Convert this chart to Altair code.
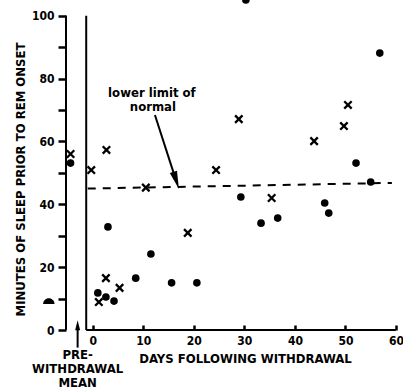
import altair as alt
import pandas as pd

# ---- data ----
cross_days = [-0.3, 2.7, 10.5, 24.4, 28.9, 35.4, 43.8, 49.7, 50.5, 18.8, 2.6, 5.3, 1.2]
cross_vals = [50.9, 57.3, 45.3, 50.9, 67.1, 42.0, 60.1, 64.9, 71.6, 30.9, 16.5, 13.4, 8.9]
dot_days = [30.3, 56.8, 52.1, 55.0, 29.3, 33.3, 36.6, 45.9, 46.7, 3.0, 11.5, 8.5, 15.6, 20.6, 1.0, 2.6, 4.2]
dot_vals = [105.0, 88.1, 53.1, 47.1, 42.3, 34.0, 35.6, 40.4, 37.2, 32.8, 24.2, 16.5, 15.0, 15.0, 11.8, 10.5, 9.2]
pre_day = -4.4
pre_cross_val = 56.0
pre_dot_val = 53.1
blob_day = [-8.7]
blob_val = [8.3]

normal_days = [-1.0, 59.2]
normal_vals = [45.0, 46.8]

x_ticks = [0, 10, 20, 30, 40, 50, 60]
y_ticks = [0, 10, 20, 30, 40, 50, 60, 70, 80, 90, 100]

FONT = "DejaVu Sans Condensed"
INK = "#000000"
H = 330

xs = alt.Scale(domain=[-5.3, 61], nice=False, zero=False)
ys = alt.Scale(domain=[0, 105], nice=False, zero=False)

xaxis = alt.Axis(values=x_ticks, domain=False, grid=False, ticks=True, tickSize=5,
                 tickWidth=2.5, tickColor="#000000", tickOpacity=1, offset=-5,
                 labelPadding=5,
                 labelFont=FONT, labelFontWeight="bold", labelFontSize=12, labelColor=INK,
                 title="DAYS FOLLOWING WITHDRAWAL", titleFont=FONT, titleFontWeight="bold",
                 titleFontSize=13, titleColor=INK, titleX=179, titleY=33,
                 titleAlign="center", titleBaseline="middle")
yaxis = alt.Axis(values=y_ticks, domain=False, grid=False, ticks=True, tickSize=8,
                 tickWidth=2.5, tickColor="#000000", tickOpacity=1, labelPadding=4,
                 labelExpr="datum.value % 20 === 0 ? datum.label : ''",
                 labelFont=FONT, labelFontWeight="bold", labelFontSize=12, labelColor=INK,
                 title="MINUTES OF SLEEP PRIOR TO REM ONSET", titleFont=FONT,
                 titleFontWeight="bold", titleFontSize=13, titleColor=INK,
                 titleX=-46, titleY=179, titleAngle=270, titleAlign="center",
                 titleBaseline="middle")


def X(f="day"):
    return alt.X(f + ":Q", scale=xs, axis=xaxis)


def Y(f="val"):
    return alt.Y(f + ":Q", scale=ys, axis=yaxis)


# points
cross_df = pd.DataFrame({"day": cross_days + [pre_day], "val": cross_vals + [pre_cross_val]})
dot_df = pd.DataFrame({"day": dot_days + [pre_day], "val": dot_vals + [pre_dot_val]})
blob_df = pd.DataFrame({"day": blob_day, "val": blob_val})

# axis lines and divider drawn as rules
lines_df = pd.DataFrame({
    "day": [-5.3, -1.3, -1.3],
    "day2": [-5.3, -1.3, 60.0],
    "val": [0, 0, 0],
    "val2": [100, 100, 0],
})
normal_df = pd.DataFrame({"day": [normal_days[0]], "day2": [normal_days[1]],
                          "val": [normal_vals[0]], "val2": [normal_vals[1]]})
shaft_df = pd.DataFrame({"day": [12.3, -3.0], "day2": [16.4, -3.0],
                         "val": [68.4, -5.6], "val2": [48.0, 0.5]})
head_df = pd.DataFrame({"day": [16.5, -3.0], "val": [47.6, 1.5],
                        "shape": ["M0,1L-0.42,-1L0.42,-1Z", "M0,-1L-0.5,1L0.5,1Z"],
                        "ang": [342, 0], "sz": [324, 100]})

ann_df = pd.DataFrame({"day": [11.7, 11.9], "val": [75.4, 71.0],
                       "txt": ["lower limit of", "normal"]})
pre_df = pd.DataFrame({"day": [-3.0, -3.0, -3.0], "val": [-7.9, -12.4, -16.8],
                       "txt": ["PRE-", "WITHDRAWAL", "MEAN"]})

frame = alt.Chart(lines_df).mark_rule(color=INK, strokeWidth=2).encode(
    x=X(), x2="day2:Q", y=Y(), y2="val2:Q")
normal = alt.Chart(normal_df).mark_rule(color=INK, strokeWidth=2, strokeDash=[8, 7]).encode(
    x=X(), x2="day2:Q", y=Y(), y2="val2:Q")
shafts = alt.Chart(shaft_df).mark_rule(color=INK, strokeWidth=2).encode(
    x=X(), x2="day2:Q", y=Y(), y2="val2:Q")
heads = alt.Chart(head_df).mark_point(filled=True, color=INK, opacity=1).encode(
    x=X(), y=Y(), shape=alt.Shape("shape:N", scale=None, legend=None),
    angle=alt.Angle("ang:Q", scale=None), size=alt.Size("sz:Q", scale=None, legend=None))
dots = alt.Chart(dot_df).mark_point(shape="circle", filled=True, color=INK, opacity=1,
                                    size=58).encode(x=X(), y=Y())
crosses = alt.Chart(cross_df).mark_point(shape="M-1,-1L1,1M1,-1L-1,1", filled=False,
                                         color=INK, opacity=1, strokeWidth=2.3,
                                         size=55).encode(x=X(), y=Y())
blob = alt.Chart(blob_df).mark_point(shape="M-1,0A1,1,0,0,1,1,0Z", filled=True, color=INK,
                                     opacity=1, size=130).encode(x=X(), y=Y())
ann = alt.Chart(ann_df).mark_text(font=FONT, fontWeight="bold", fontSize=13, color=INK,
                                  align="center", baseline="middle").encode(
    x=X(), y=Y(), text="txt:N")
pre = alt.Chart(pre_df).mark_text(font=FONT, fontWeight="bold", fontSize=13, color=INK,
                                  align="center", baseline="middle").encode(
    x=X(), y=Y(), text="txt:N")

chart = alt.layer(frame, normal, shafts, heads, dots, crosses, blob, ann, pre).properties(
    width=335, height=H,
    autosize=alt.AutoSizeParams(type="none"),
    padding={"left": 66, "top": 0, "right": 2, "bottom": 60},
).configure_view(stroke=None)

chart.save("out.html", embed_options={"renderer": "svg", "actions": False})
